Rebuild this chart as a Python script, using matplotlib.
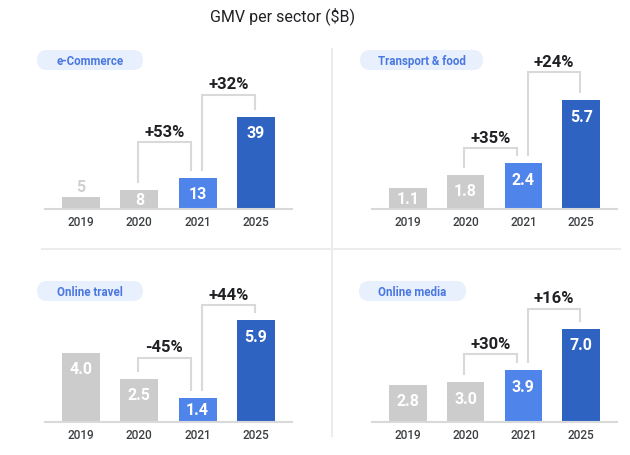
import matplotlib
matplotlib.use("Agg")
import matplotlib.pyplot as plt
from matplotlib.patches import FancyBboxPatch
from matplotlib.lines import Line2D

plt.rcParams['font.family'] = ['Roboto', 'DejaVu Sans']

# ---------------- data ----------------
title = "GMV per sector ($B)"
sectors = ["e-Commerce", "Transport & food", "Online travel", "Online media"]
years = ["2019", "2020", "2021", "2025"]
ecommerce = [5, 8, 13, 39]
transport = [1.1, 1.8, 2.4, 5.7]
travel = [4.0, 2.5, 1.4, 5.9]
media = [2.8, 3.0, 3.9, 7.0]
value_fmt = ["{:.0f}", "{:.1f}", "{:.1f}", "{:.1f}"]
growth = [["+53%", "+32%"], ["+35%", "+24%"], ["-45%", "+44%"], ["+30%", "+16%"]]
series = [ecommerce, transport, travel, media]

# ---------------- layout / style ----------------
W, H = 630, 456
DPI = 100
bar_colors = ["#cccccc", "#cccccc", "#4f84ea", "#2f63c2"]
pill_bg = "#e8f0fe"
pill_fg = "#4a78e0"
dark = "#202124"
line_gray = "#d9d9d9"
div_gray = "#ececec"

# axes rectangles in pixels: (left, right, baseline_y, top_y)
axes_px = [(45, 292, 210, 75), (372, 617, 210, 75), (45, 292, 423, 288), (372, 617, 423, 288)]
ymax = [57.2, 7.06, 7.81, 10.16]
xlim = (-0.62, 3.62)
bar_w = 0.65
# pill boxes (cx, cy, w, h) in pixels
pills = [(90, 61, 106, 20), (421.5, 61, 123, 20), (90, 292, 106, 20), (412.5, 292, 107, 20)]
# bracket rise above taller bar (px)
rise = [[36, 22], [15, 28], [21, 15], [16, 20]]
leg_gap = 8
bracket_pairs = [(1, 2, -0.03, -0.11), (2, 3, 0.08, -0.02)]

fig = plt.figure(figsize=(W / DPI, H / DPI), dpi=DPI)
fig.patch.set_facecolor("white")

# overlay axes in pixel coordinates for decorations
ov = fig.add_axes([0, 0, 1, 1])
ov.set_xlim(0, W)
ov.set_ylim(H, 0)
ov.axis("off")
ov.set_zorder(0)

ov.text(283, 16, title, ha="center", va="center", fontsize=11.5, color=dark)

# dividers
ov.plot([332, 332], [50, 437], color=div_gray, lw=1.5)
ov.plot([42, 620], [250, 250], color=div_gray, lw=1.5)

for k, (cx, cy, pw, ph) in enumerate(pills):
    box = FancyBboxPatch((cx - pw / 2 + ph / 2, cy - ph / 2), pw - ph, ph,
                         boxstyle="round,pad=0,rounding_size=%f" % (ph / 2),
                         facecolor=pill_bg, edgecolor="none")
    # use pad so ends become semicircles
    box.set_boxstyle("round", pad=0, rounding_size=ph / 2)
    box.set_x(cx - pw / 2)
    box.set_width(pw)
    ov.add_patch(box)
    ov.text(cx, cy + 0.5, sectors[k], ha="center", va="center", fontsize=8.3,
            fontweight="bold", color=pill_fg)

for k, vals in enumerate(series):
    l, r, base, top = axes_px[k]
    ax = fig.add_axes([l / W, 1 - base / H, (r - l) / W, (base - top) / H])
    ax.set_facecolor("none")
    ax.set_xlim(*xlim)
    ax.set_ylim(0, ymax[k])
    ppu = (base - top) / ymax[k]  # pixels per data unit
    xs = list(range(len(years)))
    ax.bar(xs, vals, width=bar_w, color=bar_colors, zorder=2)
    for s in ["left", "right", "top"]:
        ax.spines[s].set_visible(False)
    ax.spines["bottom"].set_color(line_gray)
    ax.spines["bottom"].set_linewidth(1.5)
    ax.set_yticks([])
    ax.set_xticks(xs)
    ax.set_xticklabels(years, fontsize=8.5, fontweight="medium", color="#3c4043")
    ax.tick_params(axis="x", length=0, pad=4)

    for i, v in enumerate(vals):
        txt = value_fmt[k].format(v)
        if v * ppu < 16:
            ax.text(i, v + 11 / ppu, txt, ha="center", va="center", fontsize=11.5,
                    fontweight="bold", color="#cfcfcf")
        else:
            y = max(v / 2, v - 16 / ppu)
            ax.text(i, y, txt, ha="center", va="center", fontsize=11.5,
                    fontweight="bold", color="white")

    for b, (a, c, da, dc) in enumerate(bracket_pairs):
        hy = max(vals[a], vals[c]) + rise[k][b] / ppu
        xa, xc = a + da, c + dc
        ya, yc = vals[a] + leg_gap / ppu, vals[c] + leg_gap / ppu
        ax.plot([xa, xa, xc, xc], [ya, hy, hy, yc], color=line_gray, lw=1.5,
                solid_joinstyle="miter", clip_on=False, zorder=1)
        ax.text((xa + xc) / 2, hy + 11 / ppu, growth[k][b], ha="center", va="center",
                fontsize=12, fontweight="bold", color=dark, clip_on=False)

fig.savefig("out.png", dpi=DPI, facecolor="white")
